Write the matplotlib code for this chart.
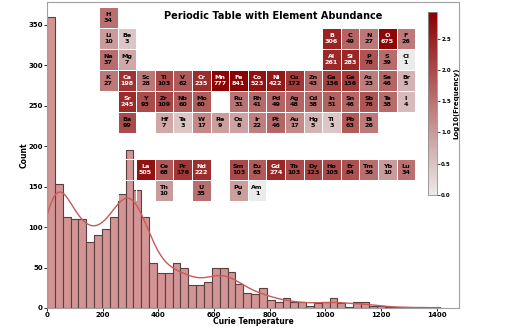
import numpy as np
import matplotlib.pyplot as plt
from matplotlib.colors import LinearSegmentedColormap, Normalize

# Curie temperature histogram: 50 bins between 0 and 1410
bin_edges = np.linspace(0, 1410, 51)
counts = np.array([360, 153, 112, 110, 110, 82, 90, 98, 112, 141,
                   195, 146, 112, 56, 43, 43, 56, 49, 28, 28,
                   32, 49, 49, 45, 30, 18, 17, 25, 10, 7,
                   12, 7, 7, 3, 6, 7, 12, 6, 1, 8,
                   7, 3, 2, 1, 1, 1, 0, 1, 0, 1])

# element frequency in the dataset
element_counts = {
    "H": 34, "Li": 10, "Be": 3, "B": 306, "C": 49, "N": 27, "O": 675, "F": 26,
    "Na": 37, "Mg": 7, "Al": 261, "Si": 283, "P": 78, "S": 39, "Cl": 1,
    "K": 27, "Ca": 198, "Sc": 28, "Ti": 103, "V": 62, "Cr": 235, "Mn": 777,
    "Fe": 841, "Co": 523, "Ni": 422, "Cu": 172, "Zn": 43, "Ga": 136, "Ge": 156,
    "As": 23, "Se": 46, "Br": 5,
    "Sr": 245, "Y": 93, "Zr": 109, "Nb": 60, "Mo": 60, "Ru": 31, "Rh": 41,
    "Pd": 49, "Ag": 48, "Cd": 38, "In": 51, "Sn": 46, "Sb": 76, "Te": 38, "I": 4,
    "Ba": 99, "Hf": 7, "Ta": 3, "W": 17, "Re": 9, "Os": 8, "Ir": 22, "Pt": 46,
    "Au": 17, "Hg": 5, "Tl": 3, "Pb": 63, "Bi": 26,
    "La": 505, "Ce": 68, "Pr": 176, "Nd": 222, "Sm": 103, "Eu": 63, "Gd": 274,
    "Tb": 103, "Dy": 123, "Ho": 105, "Er": 84, "Tm": 36, "Yb": 10, "Lu": 34,
    "Th": 10, "U": 35, "Pu": 9, "Am": 1,
}

# periodic table layout ('-' = empty cell)
table_layout = [
    "H  -  -  -  -  -  -  -  -  -  -  -  -  -  -  -  -  -",
    "Li Be -  -  -  -  -  -  -  -  -  -  B  C  N  O  F  -",
    "Na Mg -  -  -  -  -  -  -  -  -  -  Al Si P  S  Cl -",
    "K  Ca Sc Ti V  Cr Mn Fe Co Ni Cu Zn Ga Ge As Se Br -",
    "-  Sr Y  Zr Nb Mo -  Ru Rh Pd Ag Cd In Sn Sb Te I  -",
    "-  Ba -  Hf Ta W  Re Os Ir Pt Au Hg Tl Pb Bi -  -  -",
    "-  -  -  -  -  -  -  -  -  -  -  -  -  -  -  -  -  -",
    "-  -  La Ce Pr Nd -  Sm Eu Gd Tb Dy Ho Er Tm Yb Lu -",
    "-  -  -  Th -  U  -  Pu Am -  -  -  -  -  -  -  -  -",
]

W, H = 518, 330
fig = plt.figure(figsize=(W / 100, H / 100), dpi=100)

# ---- histogram + kde ----
ax = fig.add_axes([47 / W, 22 / H, 412 / W, 306 / H])
widths = np.diff(bin_edges)
ax.bar(bin_edges[:-1], counts, width=widths, align='edge',
       color='#d29494', edgecolor='#5a4040', linewidth=0.8)

centers = bin_edges[:-1] + widths / 2
bw = 52
xs = np.linspace(bin_edges[0], bin_edges[-1], 400)
kern = np.exp(-0.5 * ((xs[None, :] - centers[:, None]) / bw) ** 2) / (bw * np.sqrt(2 * np.pi))
kde = (counts[:, None] * widths[:, None] * kern).sum(axis=0)
ax.plot(xs, kde, color='#c85a5a', linewidth=1)

ax.set_xlim(0, 1480)
ax.set_ylim(0, counts.max() * 1.05)
ax.set_xlabel("Curie Temperature", fontsize=5.5, fontweight='bold')
ax.set_ylabel("Count", fontsize=5.5, fontweight='bold')
ax.xaxis.set_label_coords(0.5, -0.031)
ax.yaxis.set_label_coords(-0.044, 0.5)
ax.tick_params(labelsize=5, length=2, width=0.6, pad=1)
for lab in ax.get_xticklabels() + ax.get_yticklabels():
    lab.set_fontweight('bold')
for sp in ax.spines.values():
    sp.set_color('#a0a0a0')
    sp.set_linewidth(0.8)

# ---- periodic table inset ----
cmap = LinearSegmentedColormap.from_list("abund", ["#ebebeb", "#8b0000"])
norm = Normalize(vmin=0, vmax=np.log10(max(element_counts.values())))

n_rows = len(table_layout)
grid = np.full((n_rows, 18), np.nan)
cells = []
for r, line in enumerate(table_layout):
    for c, sym in enumerate(line.split()):
        if sym != '-':
            grid[r, c] = np.log10(element_counts[sym])
            cells.append((r, c, sym))

y_edges = np.array([0, 1, 2, 3, 4, 5, 6, 7.24, 8.24, 9.24])
x_edges = np.arange(19)
row_h, col_w = 21, 18.6
tax = fig.add_axes([99 / W, 1 - (7 + y_edges[-1] * row_h) / H,
                    18 * col_w / W, y_edges[-1] * row_h / H])
tax.pcolormesh(x_edges, y_edges, np.ma.masked_invalid(grid), cmap=cmap, norm=norm,
               edgecolors='white', linewidth=0.5)
tax.set_xlim(0, 18)
tax.set_ylim(y_edges[-1], 0)
tax.axis('off')

for r, c, sym in cells:
    val = grid[r, c]
    yc = (y_edges[r] + y_edges[r + 1]) / 2
    tcol = 'white' if val > 2.28 else 'black'
    tax.text(c + 0.5, yc, f"{sym}\n{element_counts[sym]}", ha='center', va='center',
             fontsize=4.6, fontweight='bold', color=tcol, linespacing=1.05)

fig.text(273 / W, 1 - 16 / H, "Periodic Table with Element Abundance",
         ha='center', va='center', fontsize=7, fontweight='bold')

# ---- colorbar ----
cax = fig.add_axes([428 / W, 1 - 195 / H, 9 / W, 183 / H])
sm = plt.cm.ScalarMappable(cmap=cmap, norm=norm)
cb = fig.colorbar(sm, cax=cax)
cb.set_label("Log10(Frequency)", fontsize=5, fontweight='bold', labelpad=1.5)
cb.ax.tick_params(labelsize=4, length=2, width=0.5, pad=1)
for lab in cb.ax.get_yticklabels():
    lab.set_fontweight('bold')
cb.outline.set_edgecolor('#909090')
cb.outline.set_linewidth(0.6)

fig.savefig("out.png", dpi=100)
